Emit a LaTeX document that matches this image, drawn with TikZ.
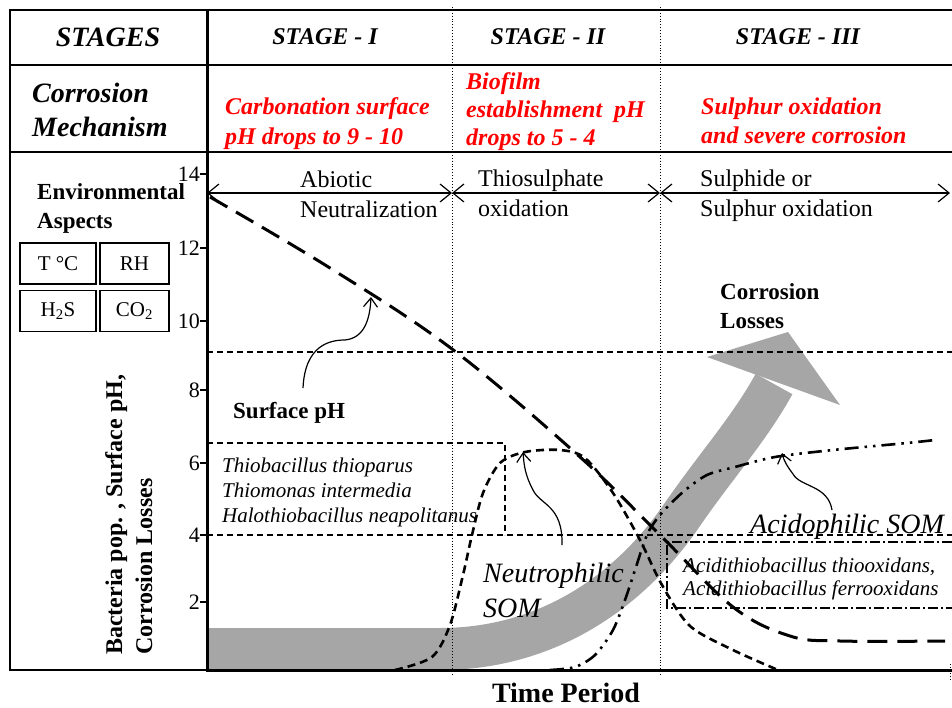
\documentclass[tikz,border=0pt]{standalone}
\usepackage{fontspec}
\setmainfont{Liberation Serif}
\usetikzlibrary{arrows.meta}
\definecolor{bandgray}{RGB}{166,166,166}
\newcommand\fsz[1]{\fontsize{#1}{#1}\selectfont}
\begin{document}
\begin{tikzpicture}[x=1pt,y=-1pt,
 txt/.style={inner sep=0pt, anchor=base west},
 hdr/.style={inner sep=0pt, font=\fsz{24}\bfseries\itshape},
 redt/.style={txt, text=red, font=\fsz{24}\bfseries\itshape},
 phase/.style={txt, font=\fsz{24}},
 spc/.style={txt, font=\fsz{21}\itshape},
 som/.style={txt, font=\fsz{28}\itshape},
 lbl/.style={txt, font=\fsz{23}\bfseries},
 ticklbl/.style={inner sep=0pt, anchor=east, font=\fsz{22}},
 envbox/.style={draw, line width=1.2pt, minimum height=41pt, inner sep=0pt, font=\fsz{21}},
 frameline/.style={line width=2pt},
 axisline/.style={line width=3pt},
 stagesep/.style={dotted, line width=0.9pt},
 guide/.style={dash pattern=on 6pt off 4pt, line width=1.2pt},
 guidedd/.style={dash pattern=on 10pt off 3pt on 2pt off 3pt, line width=1.2pt},
 phasearr/.style={line width=1.2pt, {Straight Barb[length=11pt,width=18pt]}-{Straight Barb[length=11pt,width=18pt]}},
 pointer/.style={line width=1.2pt, -{Straight Barb[length=9pt,width=14pt]}},
 phcurve/.style={line width=3pt, dash pattern=on 20pt off 10pt},
 neucurve/.style={line width=2.6pt, dash pattern=on 8pt off 5pt},
 acicurve/.style={line width=2.6pt, dash pattern=on 14pt off 6pt on 2.5pt off 6pt on 2.5pt off 6pt},
]
\useasboundingbox (0,0) rectangle (952,708);
\fill[white] (0,0) rectangle (952,708);

% corrosion losses band
\draw[bandgray, line width=42pt] (208,649) -- (440,649) .. controls (545,649) and (628,594) .. (682,515) .. controls (715,467) and (750,428) .. (774,384);
\fill[bandgray] (707,357) -- (788,332) -- (840,405) -- cycle;

% guide lines
\draw[guide] (207,352) -- (952,352);
\draw[guide] (207,535) -- (952,535);
\draw[guide] (207,443) -- (505,443) -- (505,535);
\draw[guidedd] (952,542) -- (667,542) -- (667,608) -- (952,608);

% stage separators
\draw[stagesep] (452,7) -- (452,676);
\draw[stagesep] (660,7) -- (660,676);
\draw[stagesep] (950,664) -- (950,680);

% curves
\draw[phcurve] plot[smooth, tension=0.6] coordinates {(210,197) (330,268) (452,349) (580,457) (660,535) (733,607) (790,636) (840,641) (945,641)};
\draw[neucurve] plot[smooth, tension=0.5] coordinates {(395,670) (432,657) (450,625) (463,575) (472,535) (483,493) (500,463) (525,452) (560,450) (585,458) (613,493) (640,540) (662,585) (690,626) (733,650) (778,670)};
\draw[acicurve] plot[smooth, tension=0.5] coordinates {(550,670) (575,667) (595,655) (613,630) (625,600) (635,570) (647,535) (660,515) (683,492) (707,475) (735,467) (775,457) (833,450) (907,443) (935,440)};

% pointers
\coordinate (phtip) at (371,297);
\coordinate (neutip) at (523,452);
\coordinate (acitip) at (782,453);
\draw[pointer] (303,388) .. controls (305,345) and (330,340) .. (345,340) .. controls (365,338) and (370,318) .. (phtip);
\draw[pointer] (562,545) .. controls (563,505) and (540,505) .. (533,490) .. controls (525,475) and (524,465) .. (neutip);
\draw[pointer] (832,510) .. controls (828,485) and (800,487) .. (793,474) .. controls (787,466) and (784,461) .. (acitip);

% phase arrows
\coordinate (p0) at (207,193);
\coordinate (p1) at (452,193);
\coordinate (p2) at (660,193);
\coordinate (p3) at (950,193);
\draw[phasearr] (p0) -- (p1);
\draw[phasearr] (p1) -- (p2);
\draw[phasearr] (p2) -- (p3);

% table frame and axes
\draw[frameline] (10,10) -- (952,10);
\draw[frameline] (10,65) -- (952,65);
\draw[frameline] (10,152) -- (952,152);
\draw[frameline] (10,9) -- (10,670) -- (207,670);
\draw[axisline] (207,9) -- (207,671);
\draw[axisline] (206,670) -- (952,670);

% ticks
\foreach \v/\yy in {14/174,12/248,10/321,8/390,6/463,4/535,2/602}{
  \draw[line width=1.2pt] (200,\yy) -- (207,\yy);
  \node[ticklbl] (tick\v) at (200,\yy) {\v};
}

% header
\node[hdr, font=\fsz{28}\bfseries\itshape] (stages) at (108,37) {STAGES};
\node[hdr] (st1) at (325,37) {STAGE - I};
\node[hdr] (st2) at (548,37) {STAGE - II};
\node[hdr] (st3) at (798,37) {STAGE - III};
\node[txt, font=\fsz{28}\bfseries\itshape] (cm1) at (32,103) {Corrosion};
\node[txt, font=\fsz{28}\bfseries\itshape] (cm2) at (32,137) {Mechanism};
\node[redt] (r11) at (225,115) {Carbonation surface};
\node[redt] (r12) at (225,145) {pH drops to 9 - 10};
\node[redt] (r21) at (466,90) {Biofilm};
\node[redt] (r22) at (466,118) {establishment\ \ pH};
\node[redt] (r23) at (466,146) {drops to 5 - 4};
\node[redt] (r31) at (701,115) {Sulphur oxidation};
\node[redt] (r32) at (701,144) {and severe corrosion};

% environmental aspects
\node[lbl] (env1) at (37,200) {Environmental};
\node[lbl] (env2) at (37,229) {Aspects};
\node[envbox, minimum width=76pt] (tc) at (58,263.5) {T °C};
\node[envbox, minimum width=69pt] (rh) at (134.5,263.5) {RH};
\node[envbox, minimum width=76pt] (hs) at (58,311) {H\textsubscript{2}S};
\node[envbox, minimum width=69pt] (co) at (134.5,311) {CO\textsubscript{2}};

% y label
\node[txt, rotate=90, font=\fsz{24}\bfseries] (yl1) at (122,655) {Bacteria pop. , Surface pH,};
\node[txt, rotate=90, font=\fsz{24}\bfseries] (yl2) at (152,655) {Corrosion Losses};

% phase texts
\node[phase] (ph11) at (300,188) {Abiotic};
\node[phase] (ph12) at (300,218) {Neutralization};
\node[phase] (ph21) at (478,187) {Thiosulphate};
\node[phase] (ph22) at (478,217) {oxidation};
\node[phase] (ph31) at (700,187) {Sulphide or};
\node[phase] (ph32) at (700,217) {Sulphur oxidation};

% labels
\node[lbl] (sph) at (233,418) {Surface pH};
\node[lbl] (cl1) at (720,300) {Corrosion};
\node[lbl] (cl2) at (720,328) {Losses};
\node[spc] (tb1) at (222,472) {Thiobacillus thioparus};
\node[spc] (tb2) at (222,497) {Thiomonas intermedia};
\node[spc] (tb3) at (222,522) {Halothiobacillus neapolitanus};
\node[spc] (ab1) at (683,572) {Acidithiobacillus thiooxidans,};
\node[spc] (ab2) at (683,595) {Acidithiobacillus ferrooxidans};
\node[som] (aso) at (750,533) {Acidophilic SOM};
\node[som] (nso1) at (483,582) {Neutrophilic};
\node[som] (nso2) at (483,617) {SOM};
\node[inner sep=0pt, anchor=base, font=\fsz{28}\bfseries] (time) at (566,702) {Time Period};
\end{tikzpicture}
\end{document}
